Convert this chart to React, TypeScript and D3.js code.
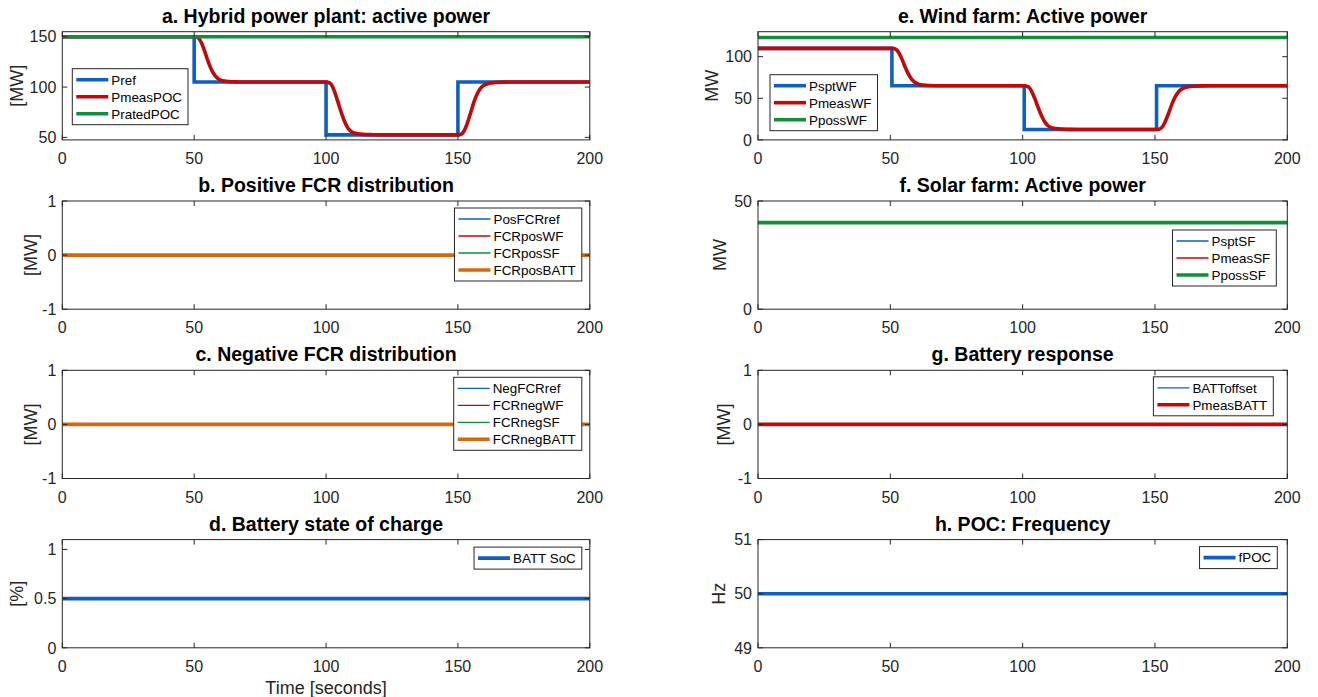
import { useEffect, useRef } from "react";
import * as d3 from "d3";

// shared time axis
const timeDomain = [0, 200];
const timeTicks = [0, 50, 100, 150, 200];
const flatTime = [0, 200];

// a. Hybrid power plant
const prefTime = [0, 50, 50, 100, 100, 150, 150, 200];
const pRef = [150, 150, 105, 105, 52.5, 52.5, 105, 105];
const pocMeasTime = [0, 50, 51, 52, 53, 54, 55, 56, 57, 58, 59, 60, 62, 64, 67, 70, 100, 101, 102, 103, 104, 105, 106, 107, 108, 109, 110, 112, 114, 117, 120, 150, 151, 152, 153, 154, 155, 156, 157, 158, 159, 160, 162, 164, 167, 170, 200];
const pMeasPOC = [150, 150, 149.6, 147.5, 142.5, 135.5, 127.5, 120.5, 115, 111, 108.5, 107, 105.8, 105.3, 105.1, 105, 105, 104.6, 102.5, 97, 89.5, 81, 73, 66, 60.5, 57, 55, 53.6, 53, 52.7, 52.5, 52.5, 52.9, 55, 60, 67.5, 76, 84.5, 91.5, 96.5, 100, 102, 103.8, 104.5, 104.9, 105, 105];
const pRatedPOC = [150, 150];

// e. Wind farm
const wfSptTime = [0, 50.6, 50.6, 100.6, 100.6, 150.6, 150.6, 200];
const pSptWF = [110, 110, 65, 65, 12.5, 12.5, 65, 65];
const wfMeasTime = [0, 50.6, 51.6, 52.6, 53.6, 54.6, 55.6, 56.6, 57.6, 58.6, 59.6, 60.6, 62.6, 64.6, 67.6, 70.6, 100.6, 101.6, 102.6, 103.6, 104.6, 105.6, 106.6, 107.6, 108.6, 109.6, 110.6, 112.6, 114.6, 117.6, 120.6, 150.6, 151.6, 152.6, 153.6, 154.6, 155.6, 156.6, 157.6, 158.6, 159.6, 160.6, 162.6, 164.6, 167.6, 170.6, 200];
const pMeasWF = [110, 110, 109.6, 107.5, 102.5, 95.5, 87.5, 80.5, 75, 71, 68.5, 67, 65.8, 65.3, 65.1, 65, 65, 64.6, 62.5, 57, 49.5, 41, 33, 26, 20.5, 17, 15, 13.6, 13, 12.7, 12.5, 12.5, 12.9, 15, 20, 27.5, 36, 44.5, 51.5, 56.5, 60, 62, 63.8, 64.5, 64.9, 65, 65];
const pPossWF = [123, 123];

// b. Positive FCR
const posFCRref = [0, 0];
const fcrPosWF = [0, 0];
const fcrPosSF = [0, 0];
const fcrPosBATT = [0, 0];

// f. Solar farm
const pSptSF = [40, 40];
const pMeasSF = [40, 40];
const pPossSF = [40, 40];

// c. Negative FCR
const negFCRref = [0, 0];
const fcrNegWF = [0, 0];
const fcrNegSF = [0, 0];
const fcrNegBATT = [0, 0];

// g. Battery response
const battOffset = [0, 0];
const pMeasBATT = [0, 0];

// d. Battery SoC
const battSoC = [0.5, 0.5];

// h. POC frequency
const fPOC = [50, 50];

const BLUE = "#0f5fc0";
const RED = "#c00a0a";
const GREEN = "#0f8f3a";
const ORANGE = "#d4680f";
const AX = "#262626";
const FONT = "'Liberation Sans', Arial, Helvetica, sans-serif";

const colLeft = [62.3, 758];
const colRight = [589.8, 1287.3];
const rowTop = [31.7, 201, 370.3, 539.6];
const axH = 108.2;

type Series = { name: string; t: number[]; v: number[]; color: string; w: number; smooth?: boolean };
type Panel = {
  title: string; col: number; row: number; ylim: number[]; yticks: number[];
  ylabel: string; ylabelX: number; series: Series[];
  legend: { side: "left" | "right"; dx: number; dy: number };
};

const thick = 3.6, thin = 1.3;

const panels: Panel[] = [
  {
    title: "a. Hybrid power plant: active power", col: 0, row: 0, ylim: [47.5, 155], yticks: [50, 100, 150],
    ylabel: "[MW]", ylabelX: 17,
    series: [
      { name: "Pref", t: prefTime, v: pRef, color: BLUE, w: thick },
      { name: "PmeasPOC", t: pocMeasTime, v: pMeasPOC, color: RED, w: thick, smooth: true },
      { name: "PratedPOC", t: flatTime, v: pRatedPOC, color: GREEN, w: thick },
    ],
    legend: { side: "left", dx: 10, dy: 37 },
  },
  {
    title: "e. Wind farm: Active power", col: 1, row: 0, ylim: [0, 130], yticks: [0, 50, 100],
    ylabel: "MW", ylabelX: 712,
    series: [
      { name: "PsptWF", t: wfSptTime, v: pSptWF, color: BLUE, w: thick },
      { name: "PmeasWF", t: wfMeasTime, v: pMeasWF, color: RED, w: thick, smooth: true },
      { name: "PpossWF", t: flatTime, v: pPossWF, color: GREEN, w: thick },
    ],
    legend: { side: "left", dx: 12, dy: 43 },
  },
  {
    title: "b. Positive FCR distribution", col: 0, row: 1, ylim: [-1, 1], yticks: [-1, 0, 1],
    ylabel: "[MW]", ylabelX: 31,
    series: [
      { name: "PosFCRref", t: flatTime, v: posFCRref, color: BLUE, w: thin },
      { name: "FCRposWF", t: flatTime, v: fcrPosWF, color: RED, w: thin },
      { name: "FCRposSF", t: flatTime, v: fcrPosSF, color: GREEN, w: thin },
      { name: "FCRposBATT", t: flatTime, v: fcrPosBATT, color: ORANGE, w: thick },
    ],
    legend: { side: "right", dx: 8, dy: 7 },
  },
  {
    title: "f. Solar farm: Active power", col: 1, row: 1, ylim: [0, 50], yticks: [0, 50],
    ylabel: "MW", ylabelX: 720,
    series: [
      { name: "PsptSF", t: flatTime, v: pSptSF, color: BLUE, w: thin },
      { name: "PmeasSF", t: flatTime, v: pMeasSF, color: RED, w: thin },
      { name: "PpossSF", t: flatTime, v: pPossSF, color: GREEN, w: thick },
    ],
    legend: { side: "right", dx: 11, dy: 29 },
  },
  {
    title: "c. Negative FCR distribution", col: 0, row: 2, ylim: [-1, 1], yticks: [-1, 0, 1],
    ylabel: "[MW]", ylabelX: 31,
    series: [
      { name: "NegFCRref", t: flatTime, v: negFCRref, color: BLUE, w: thin },
      { name: "FCRnegWF", t: flatTime, v: fcrNegWF, color: RED, w: thin },
      { name: "FCRnegSF", t: flatTime, v: fcrNegSF, color: GREEN, w: thin },
      { name: "FCRnegBATT", t: flatTime, v: fcrNegBATT, color: ORANGE, w: thick },
    ],
    legend: { side: "right", dx: 8, dy: 7 },
  },
  {
    title: "g. Battery response", col: 1, row: 2, ylim: [-1, 1], yticks: [-1, 0, 1],
    ylabel: "[MW]", ylabelX: 724,
    series: [
      { name: "BATToffset", t: flatTime, v: battOffset, color: BLUE, w: thin },
      { name: "PmeasBATT", t: flatTime, v: pMeasBATT, color: RED, w: thick },
    ],
    legend: { side: "right", dx: 14, dy: 6.5 },
  },
  {
    title: "d. Battery state of charge", col: 0, row: 3, ylim: [0, 1.1], yticks: [0, 0.5, 1],
    ylabel: "[%]", ylabelX: 17,
    series: [{ name: "BATT SoC", t: flatTime, v: battSoC, color: BLUE, w: thick }],
    legend: { side: "right", dx: 8, dy: 7.5 },
  },
  {
    title: "h. POC: Frequency", col: 1, row: 3, ylim: [49, 51], yticks: [49, 50, 51],
    ylabel: "Hz", ylabelX: 719,
    series: [{ name: "fPOC", t: flatTime, v: fPOC, color: BLUE, w: thick }],
    legend: { side: "right", dx: 10, dy: 7 },
  },
];

export default function App() {
  const ref = useRef<SVGSVGElement>(null);
  useEffect(() => {
    if (!ref.current) return;
    document.body.style.margin = "0";
    const svg = d3.select(ref.current);
    svg.selectAll("*").remove();
    const defs = svg.append("defs");

    panels.forEach((p, i) => {
      const x0 = colLeft[p.col], x1 = colRight[p.col];
      const top = rowTop[p.row], bot = top + axH;
      const x = d3.scaleLinear(timeDomain, [x0, x1]);
      const y = d3.scaleLinear(p.ylim, [bot, top]);
      const g = svg.append("g");

      defs.append("clipPath").attr("id", `clip${i}`)
        .append("rect").attr("x", x0).attr("y", top).attr("width", x1 - x0).attr("height", axH);

      const lines = g.append("g").attr("clip-path", `url(#clip${i})`);
      p.series.forEach((s) => {
        const pts = s.t.map((t, k) => [t, s.v[k]] as [number, number]);
        const line = d3.line<[number, number]>()
          .x((d) => x(d[0])).y((d) => y(d[1]))
          .curve(s.smooth ? d3.curveMonotoneX : d3.curveLinear);
        lines.append("path").attr("d", line(pts)!)
          .attr("fill", "none").attr("stroke", s.color).attr("stroke-width", s.w);
      });

      // axes box + mirrored ticks
      g.append("rect").attr("x", x0).attr("y", top).attr("width", x1 - x0).attr("height", axH)
        .attr("fill", "none").attr("stroke", AX).attr("stroke-width", 1);
      const tl = 5;
      timeTicks.forEach((t) => {
        g.append("line").attr("x1", x(t)).attr("x2", x(t)).attr("y1", bot).attr("y2", bot - tl).attr("stroke", AX);
        g.append("line").attr("x1", x(t)).attr("x2", x(t)).attr("y1", top).attr("y2", top + tl).attr("stroke", AX);
        g.append("text").attr("x", x(t)).attr("y", bot + 24).attr("text-anchor", "middle")
          .attr("font-size", 16).attr("fill", AX).text(t);
      });
      p.yticks.forEach((v) => {
        g.append("line").attr("x1", x0).attr("x2", x0 + tl).attr("y1", y(v)).attr("y2", y(v)).attr("stroke", AX);
        g.append("line").attr("x1", x1).attr("x2", x1 - tl).attr("y1", y(v)).attr("y2", y(v)).attr("stroke", AX);
        g.append("text").attr("x", x0 - 6).attr("y", y(v)).attr("dy", "0.36em").attr("text-anchor", "end")
          .attr("font-size", 16).attr("fill", AX).text(String(v));
      });

      // title & ylabel
      g.append("text").attr("x", (x0 + x1) / 2).attr("y", top - 9).attr("text-anchor", "middle")
        .attr("font-size", 19.5).attr("font-weight", "bold").attr("fill", "#000").text(p.title);
      g.append("text").attr("transform", `translate(${p.ylabelX},${(top + bot) / 2}) rotate(-90)`)
        .attr("dy", "0.36em").attr("text-anchor", "middle")
        .attr("font-size", 18).attr("fill", AX).text(p.ylabel);

      // legend
      const rowH = 17;
      const n = p.series.length;
      const boxH = (n - 1) * rowH + 22;
      const lg = g.append("g");
      const box = lg.append("rect").attr("fill", "#fff").attr("stroke", AX).attr("stroke-width", 1);
      const texts = p.series.map((s) =>
        lg.append("text").attr("font-size", 13.4).attr("fill", "#000").attr("dy", "0.36em").text(s.name)
      );
      const tw = d3.max(texts, (t) => (t.node() as SVGTextElement).getComputedTextLength()) || 60;
      const boxW = 4 + 32 + 3 + tw + 6;
      const bx = p.legend.side === "left" ? x0 + p.legend.dx : x1 - p.legend.dx - boxW;
      const by = top + p.legend.dy;
      box.attr("x", bx).attr("y", by).attr("width", boxW).attr("height", boxH);
      p.series.forEach((s, k) => {
        const ry = by + 11 + k * rowH;
        lg.append("line").attr("x1", bx + 4).attr("x2", bx + 36).attr("y1", ry).attr("y2", ry)
          .attr("stroke", s.color).attr("stroke-width", s.w);
        texts[k].attr("x", bx + 39).attr("y", ry);
      });
    });

    // x label under left bottom panel
    svg.append("text").attr("x", (colLeft[0] + colRight[0]) / 2).attr("y", rowTop[3] + axH + 46)
      .attr("text-anchor", "middle").attr("font-size", 18).attr("fill", AX).text("Time [seconds]");
  }, []);

  return (
    <svg ref={ref} width={1318} height={697}
      style={{ display: "block", background: "#fff", fontFamily: FONT }} />
  );
}
